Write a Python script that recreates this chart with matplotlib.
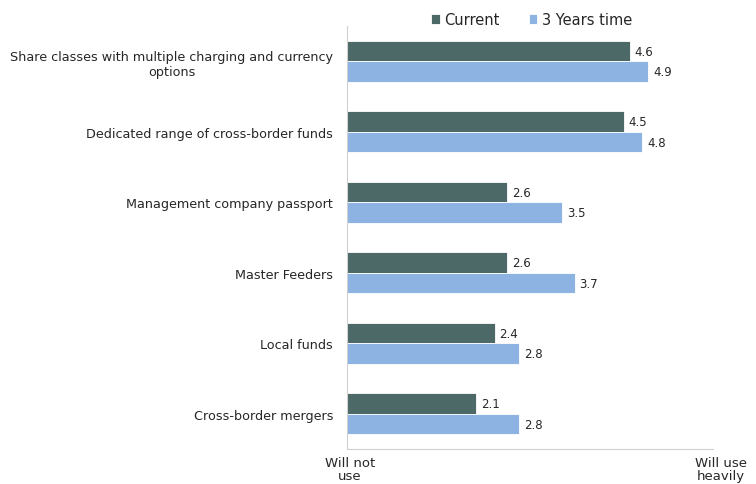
import numpy as np
import matplotlib.pyplot as plt

# Survey: use of cross-border fund structures, now vs in three years
categories = ["Share classes with multiple charging and currency\noptions",
              "Dedicated range of cross-border funds",
              "Management company passport",
              "Master Feeders",
              "Local funds",
              "Cross-border mergers"]
current = [4.6, 4.5, 2.6, 2.6, 2.4, 2.1]
three_years = [4.9, 4.8, 3.5, 3.7, 2.8, 2.8]
scale_labels = ["Will not\nuse", "Will use\nheavily"]

COL_CURRENT = "#4d6967"
COL_FUTURE = "#8db3e2"
TEXT_COL = "#262626"

fig = plt.figure(figsize=(7.56, 4.85), dpi=100)
ax = fig.add_axes([0.459, 0.072, 0.484, 0.872])

y = np.arange(len(categories))
h = 0.29
b1 = ax.barh(y - h / 2, current, height=h, color=COL_CURRENT, edgecolor="white",
             linewidth=0.6, label="Current")
b2 = ax.barh(y + h / 2, three_years, height=h, color=COL_FUTURE, edgecolor="white",
             linewidth=0.6, label="3 Years time")

for bars in (b1, b2):
    for bar in bars:
        w = bar.get_width()
        ax.text(w + 0.08, bar.get_y() + bar.get_height() / 2, f"{w:.1f}",
                va="center", ha="left", fontsize=8.5, color=TEXT_COL)

ax.set_yticks(y)
ax.set_yticklabels(categories, fontsize=9.2, color=TEXT_COL, multialignment="center")
ax.set_ylim(len(categories) - 0.5, -0.5)
ax.set_xlim(0, 5.95)
ax.set_xticks([])
ax.tick_params(axis="both", length=0, pad=10)

# scale end labels under the axis
trans = ax.get_xaxis_transform()
ax.text(0.05, -0.016, scale_labels[0], transform=trans, ha="center", va="top",
        fontsize=9.5, color=TEXT_COL, linespacing=1.05)
ax.text(6.08, -0.016, scale_labels[1], transform=trans, ha="center", va="top",
        fontsize=9.5, color=TEXT_COL, linespacing=1.05)

for side in ("top", "right"):
    ax.spines[side].set_visible(False)
ax.spines["left"].set_color("#d0d0d0")
ax.spines["bottom"].set_color("#d0d0d0")

fig.legend(handles=[b1, b2], loc="upper center", bbox_to_anchor=(0.703, 1.0), ncol=2,
           frameon=False, fontsize=10.5, handlelength=0.6, handleheight=0.6,
           handletextpad=0.3, columnspacing=2.0, labelcolor=TEXT_COL)

fig.savefig("out.png", dpi=100)
